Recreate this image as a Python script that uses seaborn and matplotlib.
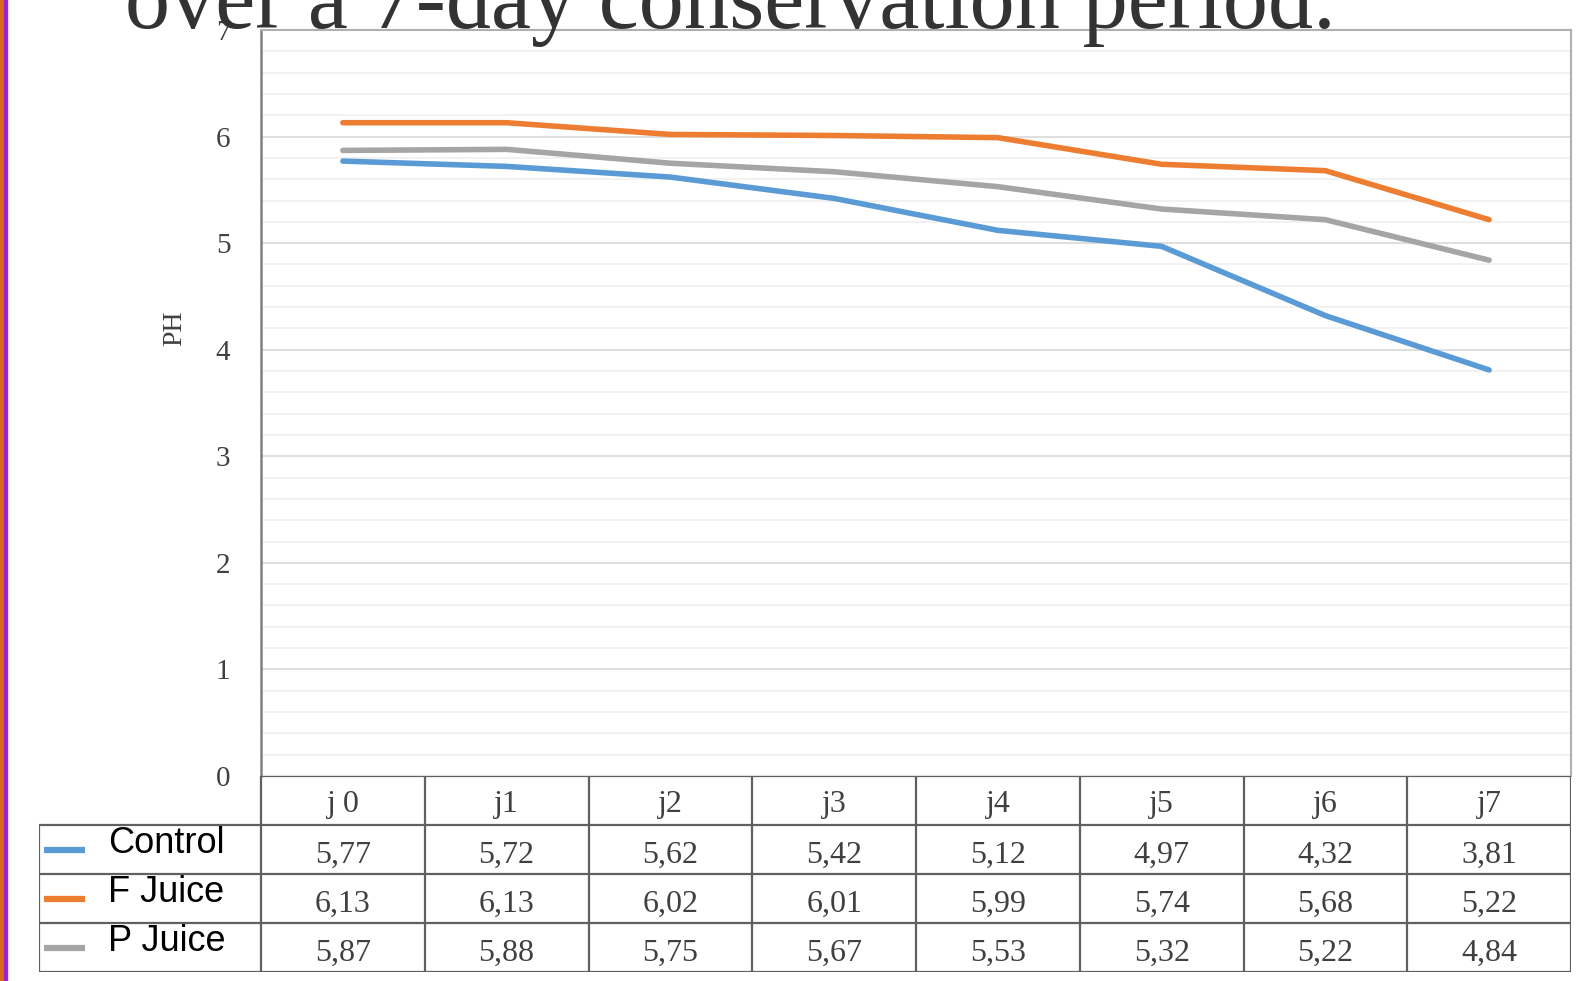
import pandas as pd
import matplotlib.pyplot as plt
import seaborn as sns
from matplotlib.patches import Rectangle

days = ["j 0", "j1", "j2", "j3", "j4", "j5", "j6", "j7"]
control = [5.77, 5.72, 5.62, 5.42, 5.12, 4.97, 4.32, 3.81]
f_juice = [6.13, 6.13, 6.02, 6.01, 5.99, 5.74, 5.68, 5.22]
p_juice = [5.87, 5.88, 5.75, 5.67, 5.53, 5.32, 5.22, 4.84]
series = ["Control", "F Juice", "P Juice"]
colors = ["#5B9BD5", "#ED7D31", "#A5A5A5"]
title = "over a 7-day conservation period."

values = {"Control": control, "F Juice": f_juice, "P Juice": p_juice}
df = pd.DataFrame([
    {"day": i, "serie": s, "ph": v}
    for s in series for i, v in enumerate(values[s])
])

sns.set_theme(style="white")
plt.rcParams["font.family"] = ["Liberation Serif", "DejaVu Serif"]

W, H = 1579, 981
fig = plt.figure(figsize=(W / 100, H / 100), dpi=100)

# main plot area (pixel based layout)
left_px, right_px, top_px, bottom_px = 261, 1571, 30, 776
ax = fig.add_axes([left_px / W, 1 - bottom_px / H,
                   (right_px - left_px) / W, (bottom_px - top_px) / H])

ax.yaxis.set_minor_locator(plt.MultipleLocator(0.2))
ax.grid(axis="y", which="minor", color="#f0f0f0", lw=1.2, zorder=0)
ax.grid(axis="y", which="major", color="#d9d9d9", lw=1.2, zorder=0)

sns.lineplot(data=df, x="day", y="ph", hue="serie", palette=colors,
             lw=4, ax=ax, legend=False, sort=False, zorder=3)

ax.set_xlim(-0.5, len(days) - 0.5)
ax.set_ylim(0, 7)
ax.set_yticks(range(0, 8))
ax.set_xticks([])
ax.set_xlabel("")
ax.set_ylabel("PH", fontsize=20, color="#404040")
ax.yaxis.set_label_coords(-0.056, 0.6)
ax.tick_params(axis="y", which="both", length=0, pad=22, labelsize=21,
               labelcolor="#404040")
for side in ["top", "right"]:
    ax.spines[side].set_color("#b0b0b0")
    ax.spines[side].set_linewidth(1.5)
ax.spines["left"].set_color("#808080")
ax.spines["left"].set_linewidth(1.8)
ax.spines["bottom"].set_visible(False)

# data table below the plot
tab_left, tab_bottom = 39, 972
cat_w = (right_px - left_px) / len(days)
lab_w = (left_px - tab_left) / cat_w
tab = fig.add_axes([tab_left / W, 1 - tab_bottom / H, (right_px - tab_left) / W,
                    (tab_bottom - bottom_px) / H])
tab.set_xlim(-0.5 - lab_w, len(days) - 0.5)
tab.set_ylim(0, 4)
tab.axis("off")
line_c = "#606060"
x0 = -0.5 - lab_w
x1 = len(days) - 0.5
tab.hlines(4, -0.5, x1, color=line_c, lw=1.6)
tab.hlines([0, 1, 2, 3], x0, x1, color=line_c, lw=1.6)
tab.vlines([-0.5 + i for i in range(len(days) + 1)], 0, 4, color=line_c, lw=1.6)
tab.vlines(x0, 0, 3, color=line_c, lw=1.6)

for i, d in enumerate(days):
    tab.text(i, 3.42, d, ha="center", va="center", fontsize=23, color="#404040")

for r, (s, c) in enumerate(zip(series, colors)):
    yc = 2.5 - r
    tab.plot([x0 + 0.03, x0 + 0.28], [yc, yc], color=c, lw=4.5,
             solid_capstyle="butt")
    tab.text(x0 + 0.42, yc + 0.12, s, ha="left", va="center", fontsize=26,
             family=["Liberation Sans", "DejaVu Sans"], color="black")
    for i, v in enumerate(values[s]):
        tab.text(i, yc - 0.12, f"{v:.2f}".replace(".", ","), ha="center",
                 va="center", fontsize=23, color="#404040")

# title, partly cut by the top of the figure
fig.text(125 / W, 1 - 28 / H, title, ha="left", va="baseline",
         fontsize=65, color="#333333", zorder=10)

# coloured edge on the left side
fig.patches.append(Rectangle((0, 0), 4 / W, 1, transform=fig.transFigure,
                             color="#d9691c", zorder=20))
fig.patches.append(Rectangle((4 / W, 0), 2.5 / W, 1, transform=fig.transFigure,
                             color="#a51fd0", zorder=20))

fig.savefig("out.png", dpi=100)
